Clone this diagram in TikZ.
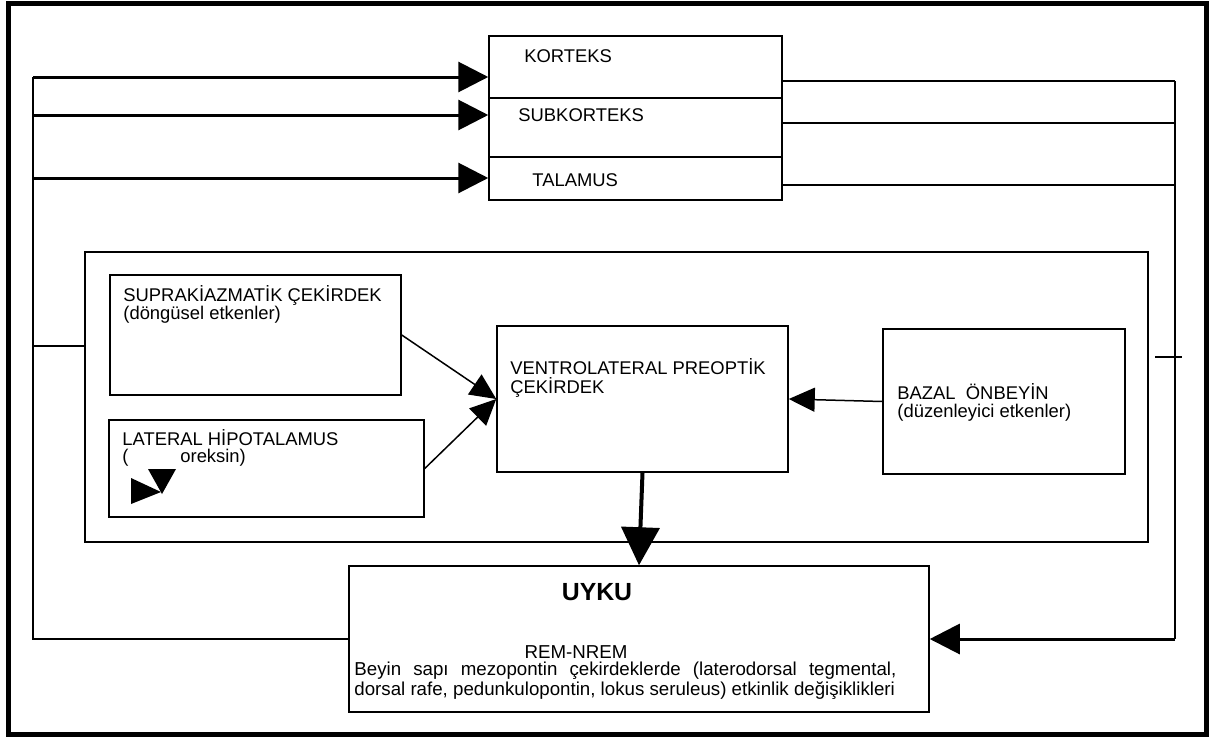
\documentclass[tikz,border=0pt]{standalone}
\usepackage{fontspec}
\setmainfont{Liberation Sans}
\usetikzlibrary{arrows.meta,fit}

\tikzset{
  kutu/.style={draw, line width=0.75pt, inner sep=0pt},
  yazi/.style={inner sep=0pt, anchor=west, font=\fontsize{9.2}{11}\selectfont},
  altyazi/.style={yazi, font=\fontsize{9.35}{11}\selectfont},
  ince/.style={line width=0.75pt},
  kalin/.style={line width=1.5pt, -{Triangle[length=15pt,width=15pt]}},
  ok/.style={line width=0.75pt, -{Triangle[length=13pt,width=12pt]}},
  asagi/.style={line width=2pt, -{Triangle[length=19pt,width=19pt]}},
}

\begin{document}
\begin{tikzpicture}[x=0.5pt,y=0.5pt,yscale=-1]
\useasboundingbox (0,0) rectangle (1214,739);

%Outer frame
\draw[line width=2.5pt] (8,3) rectangle (1206,734);

%Boxes
\node[kutu, fit={(489,36) (782,98)}] (korteks) {};
\node[kutu, fit={(489,98) (782,157)}] (subkorteks) {};
\node[kutu, fit={(489,157) (782,200)}] (talamus) {};
\node[kutu, fit={(85,252) (1148,542)}] (cevre) {};
\node[kutu, fit={(110,275) (401,395)}] (supra) {};
\node[kutu, fit={(109,420) (424,517)}] (lateral) {};
\node[kutu, fit={(497,326) (788,472)}] (vlpo) {};
\node[kutu, fit={(883,329) (1125,474)}] (bazal) {};
\node[kutu, fit={(349,566) (929,712)}] (uyku) {};

%Left bus
\coordinate (solK) at (33,77);
\coordinate (solS) at (33,115);
\coordinate (solT) at (33,178);
\coordinate (solstub) at (33,346);
\draw[ince] (solK) |- (uyku.west);
\draw[kalin] (solK) -- (solK -| korteks.west);
\draw[kalin] (solS) -- (solS -| subkorteks.west);
\draw[kalin] (solT) -- (solT -| talamus.west);
\draw[ince] (solstub) -- (solstub -| cevre.west);

%Right bus
\coordinate (sagK) at (1175,81);
\coordinate (sagS) at (1175,123);
\coordinate (sagT) at (1175,185);
\coordinate (sagstubA) at (1155,357);
\coordinate (sagstubB) at (1182,357);
\draw[ince] (korteks.east |- sagK) -- (sagK);
\draw[ince] (subkorteks.east |- sagS) -- (sagS);
\draw[ince] (talamus.east |- sagT) -- (sagT);
\draw[ince] (sagK) -- (sagK |- uyku.east) coordinate (sagU);
\draw[kalin] (sagU) -- (uyku.east);
\draw[ince] (sagstubA) -- (sagstubB);

%Inner arrows
\draw[ok] (supra.east) -- (vlpo.west);
\draw[ok] (lateral.east) -- (vlpo.west);
\draw[ok] (bazal.west) -- (vlpo.east);
\draw[asagi] (vlpo.south) -- (uyku.north);

%Oreksin arrowheads
\fill (148,469) -- (176,469) -- (162,494) -- cycle;
\fill (131,478) -- (131,504) -- (161,492) -- cycle;

% Text Node
\node[yazi] (tkorteks) at (524,56) {KORTEKS};
\node[yazi] (tsubkorteks) at (518,115) {SUBKORTEKS};
\node[yazi] (ttalamus) at (532,180) {TALAMUS};
% Text Node
\node[yazi] (tsupra1) at (123,295) {SUPRAKİAZMATİK ÇEKİRDEK};
\node[yazi] (tsupra2) at (123,315) {(döngüsel etkenler)};
% Text Node
\node[yazi] (tlateral1) at (122,438) {LATERAL HİPOTALAMUS};
\node[yazi] (tlateral2) at (122,458) {(};
\node[yazi] (tlateral3) at (180,458) {oreksin)};
% Text Node
\node[yazi] (tvlpo1) at (510,367) {VENTROLATERAL PREOPTİK};
\node[yazi] (tvlpo2) at (510,387) {ÇEKİRDEK};
% Text Node
\node[yazi] (tbazal1) at (897,392) {BAZAL\ \ ÖNBEYİN};
\node[yazi] (tbazal2) at (897,413) {(düzenleyici etkenler)};
% Text Node
\node[inner sep=0pt, font=\fontsize{12.4}{14}\selectfont\bfseries] (tuyku) at (597,592) {UYKU};
\node[altyazi, anchor=center] (trem) at (576,652) {REM-NREM};
\node[altyazi] (tbeyin1) at (354,671) {\makebox[271pt][s]{Beyin sapı mezopontin çekirdeklerde (laterodorsal tegmental,}};
\node[altyazi] (tbeyin2) at (354,691) {dorsal rafe, pedunkulopontin, lokus seruleus) etkinlik değişiklikleri};

\end{tikzpicture}
\end{document}
